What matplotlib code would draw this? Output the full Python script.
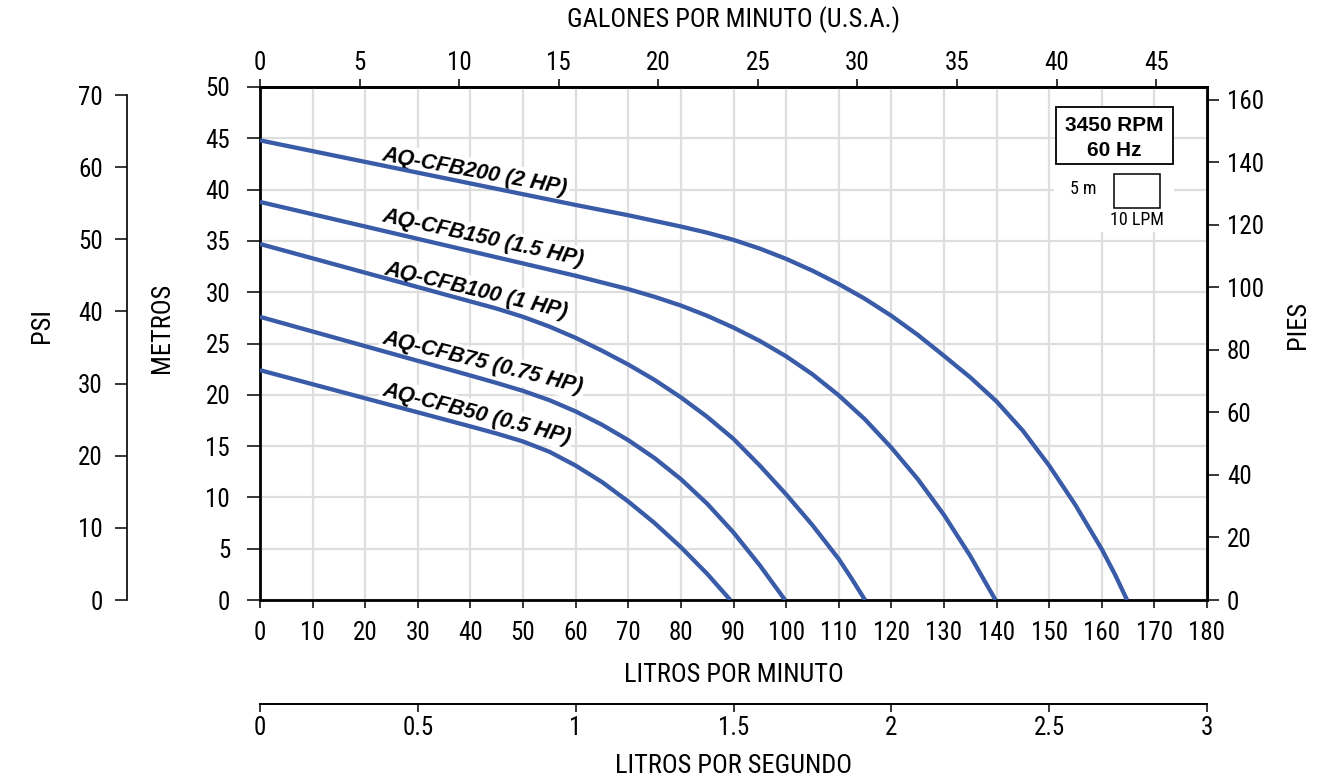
import numpy as np
import matplotlib
matplotlib.use("Agg")
import matplotlib.pyplot as plt
from matplotlib import font_manager as fm
from matplotlib.patches import Rectangle

# ---------------- data ----------------
models = ["AQ-CFB200 (2 HP)", "AQ-CFB150 (1.5 HP)", "AQ-CFB100 (1 HP)",
          "AQ-CFB75 (0.75 HP)", "AQ-CFB50 (0.5 HP)"]

lpm_200 = [0, 20, 40, 60, 70, 80, 85, 90, 95, 100, 105, 110, 115, 120, 125, 130,
           135, 140, 145, 150, 155, 160, 162.5, 164.8]
head_200 = [44.8, 42.7, 40.6, 38.5, 37.5, 36.4, 35.8, 35.1, 34.25, 33.25, 32.1, 30.8,
            29.35, 27.7, 25.85, 23.8, 21.7, 19.35, 16.5, 13.1, 9.25, 4.95, 2.5, 0.0]

lpm_150 = [0, 20, 40, 60, 70, 75, 80, 85, 90, 95, 100, 105, 110, 115, 120, 125,
           130, 135, 139.8]
head_150 = [38.8, 36.4, 34.0, 31.6, 30.3, 29.55, 28.7, 27.7, 26.55, 25.25, 23.75,
            22.0, 19.95, 17.6, 14.85, 11.8, 8.3, 4.3, 0.0]

lpm_100 = [0, 20, 40, 45, 50, 55, 60, 65, 70, 75, 80, 85, 90, 95, 100, 105, 110,
           112.5, 115]
head_100 = [34.7, 31.9, 29.1, 28.4, 27.6, 26.65, 25.55, 24.3, 22.95, 21.45, 19.75,
            17.85, 15.7, 13.1, 10.3, 7.3, 4.0, 2.05, 0.0]

lpm_75 = [0, 20, 40, 45, 50, 55, 60, 65, 70, 75, 80, 85, 90, 95, 99.8]
head_75 = [27.6, 24.74, 21.88, 21.15, 20.38, 19.48, 18.38, 17.08, 15.58, 13.83,
           11.78, 9.38, 6.58, 3.38, 0.0]

lpm_50 = [0, 20, 40, 45, 50, 55, 60, 65, 70, 75, 80, 85, 89.4]
head_50 = [22.4, 19.66, 16.92, 16.22, 15.45, 14.45, 13.1, 11.5, 9.6, 7.5, 5.15,
           2.55, 0.0]

lpm_ticks = list(range(0, 181, 10))
m_ticks = list(range(0, 51, 5))
gpm_ticks = list(range(0, 46, 5))
ft_ticks = list(range(0, 161, 20))
psi_ticks = list(range(0, 71, 10))
lps_ticks = [0, 0.5, 1, 1.5, 2, 2.5, 3]
lps_labels = ["0", "0.5", "1", "1.5", "2", "2.5", "3"]

rpm_text = ["3450 RPM", "60 Hz"]

# unit conversions
L_PER_GAL = 3.78541
M_PER_FT = 0.3048
PSI_PER_M = 1.42233


def lpm2gpm(x):
    return np.asarray(x) / L_PER_GAL


def gpm2lpm(x):
    return np.asarray(x) * L_PER_GAL


def m2ft(y):
    return np.asarray(y) / M_PER_FT


def ft2m(y):
    return np.asarray(y) * M_PER_FT


# ---------------- styling ----------------
avail = {f.name for f in fm.fontManager.ttflist}
NARROW = None
for cand in ("Liberation Sans Narrow", "Arial Narrow", "Roboto Condensed"):
    if cand in avail:
        NARROW = cand
        break
if NARROW is not None:
    FAM = NARROW
    FS_TICK = 18
    FS_TITLE = 19
    FS_SMALL = 13
else:
    FAM = "Liberation Sans"
    FS_TICK = 16.5
    FS_TITLE = 16
    FS_SMALL = 11
plt.rcParams["font.family"] = [FAM, "DejaVu Sans"]

LINE_COLOR = "#3a5ca8"
GRID_COLOR = "#dedede"
W, H = 1320, 778

fig = plt.figure(figsize=(W / 100, H / 100), dpi=100)
fig.patch.set_facecolor("white")


def fx(px):
    return px / W


def fy(py):
    return 1 - py / H


AX_L, AX_R, AX_T, AX_B = 260, 1207, 87, 600
ax = fig.add_axes([fx(AX_L), fy(AX_B), (AX_R - AX_L) / W, (AX_B - AX_T) / H])
ax.set_xlim(0, 180)
ax.set_ylim(0, 50)
ax.set_xticks(lpm_ticks)
ax.set_yticks(m_ticks)
ax.grid(True, color=GRID_COLOR, lw=1.6)
ax.set_axisbelow(True)
ax.tick_params(axis="x", direction="out", length=6, width=1.1, pad=9, labelsize=FS_TICK)
ax.tick_params(axis="y", direction="out", length=9.5, width=1.1, pad=12, labelsize=FS_TICK)
for s in ax.spines.values():
    s.set_linewidth(2)
    s.set_color("black")

# curves
series = [(lpm_200, head_200), (lpm_150, head_150), (lpm_100, head_100),
          (lpm_75, head_75), (lpm_50, head_50)]
for xs, ys in series:
    ax.plot(xs, ys, color=LINE_COLOR, lw=3.1, zorder=4, solid_capstyle="butt",
            solid_joinstyle="round")

# curve labels (anchor position in data coords, rotation)
label_pos = [(23.1, 42.9, 10.5), (23.1, 36.9, 12.5), (23.4, 31.8, 13.5),
             (23.1, 25.0, 14.0), (23.1, 20.0, 14.5)]
for name, (lx, ly, rot) in zip(models, label_pos):
    ax.text(lx, ly, name, family="Liberation Sans", fontweight="bold",
            fontstyle="italic", fontsize=15.5, rotation=-rot,
            rotation_mode="anchor", ha="left", va="baseline", zorder=3,
            bbox=dict(boxstyle="square,pad=0.12", fc="white", ec="none"))

# RPM box & scale box (axes coords)
ax.add_patch(Rectangle((0.838, 0.717), 0.127, 0.132, transform=ax.transAxes,
                       fc="white", ec="none", zorder=2))
ax.add_patch(Rectangle((0.8402, 0.8493), 0.1242, 0.1111, transform=ax.transAxes,
                       fc="white", ec="black", lw=1.3, zorder=5))
ax.text(0.9023, 0.9246, rpm_text[0], transform=ax.transAxes, ha="center",
        va="center", family="Liberation Sans", fontweight="bold", fontsize=15,
        zorder=6)
ax.text(0.9023, 0.877, rpm_text[1], transform=ax.transAxes, ha="center",
        va="center", family="Liberation Sans", fontweight="bold", fontsize=15,
        zorder=6)
ax.add_patch(Rectangle((0.9018, 0.7647), 0.0486, 0.0657, transform=ax.transAxes,
                       fc="white", ec="black", lw=1.1, zorder=5))
ax.text(0.869, 0.801, "5 m", transform=ax.transAxes, ha="center", va="center",
        fontsize=FS_SMALL, zorder=6)
ax.text(0.926, 0.7417, "10 LPM", transform=ax.transAxes, ha="center",
        va="center", fontsize=FS_SMALL, zorder=6)

# top gallons axis
sec_top = ax.secondary_xaxis("top", functions=(lpm2gpm, gpm2lpm))
sec_top.set_xticks(gpm_ticks)
sec_top.tick_params(direction="out", length=6, width=1.1, pad=2.5, labelsize=FS_TICK)
sec_top.spines["top"].set_linewidth(2)

# right feet axis
sec_r = ax.secondary_yaxis("right", functions=(m2ft, ft2m))
sec_r.set_yticks(ft_ticks)
sec_r.tick_params(direction="out", length=8.5, width=1.1, pad=5.8, labelsize=FS_TICK)
sec_r.spines["right"].set_linewidth(2)

# PSI axis (separate spine on the far left)
axp = fig.add_axes([fx(127.3), fy(AX_B), 0.0005, (AX_B - AX_T) / H])
axp.set_ylim(0, 50 * PSI_PER_M)
axp.set_xticks([])
axp.set_yticks(psi_ticks)
axp.patch.set_visible(False)
for k in ("top", "right", "bottom"):
    axp.spines[k].set_visible(False)
axp.spines["left"].set_bounds(0, 70)
axp.spines["left"].set_linewidth(1.2)
axp.tick_params(axis="y", direction="out", length=8.5, width=1.1, pad=9,
                labelsize=FS_TICK)

# litres per second axis
axs = fig.add_axes([fx(AX_L), fy(704), (AX_R - AX_L) / W, 0.0005])
axs.set_xlim(0, 180 / 60)
axs.set_yticks([])
axs.set_xticks(lps_ticks)
axs.set_xticklabels(lps_labels)
axs.patch.set_visible(False)
for k in ("top", "right", "left"):
    axs.spines[k].set_visible(False)
axs.spines["bottom"].set_linewidth(1.4)
axs.tick_params(axis="x", direction="out", length=6, width=1.1, pad=2.4,
                labelsize=FS_TICK)

# axis titles
cx = fx((AX_L + AX_R) / 2)
fig.text(cx, fy(20), "GALONES POR MINUTO (U.S.A.)", ha="center", va="center",
         fontsize=FS_TITLE)
fig.text(cx, fy(675), "LITROS POR MINUTO", ha="center", va="center", fontsize=FS_TITLE)
fig.text(cx, fy(766), "LITROS POR SEGUNDO", ha="center", va="center", fontsize=FS_TITLE)
fig.text(fx(42), fy(325), "PSI", rotation=90, ha="center", va="center", fontsize=FS_TITLE)
fig.text(fx(162), fy(328), "METROS", rotation=90, ha="center", va="center",
         fontsize=FS_TITLE)
fig.text(fx(1298), fy(325), "PIES", rotation=90, ha="center", va="center",
         fontsize=FS_TITLE)

fig.savefig("out.png", dpi=100, facecolor="white")
